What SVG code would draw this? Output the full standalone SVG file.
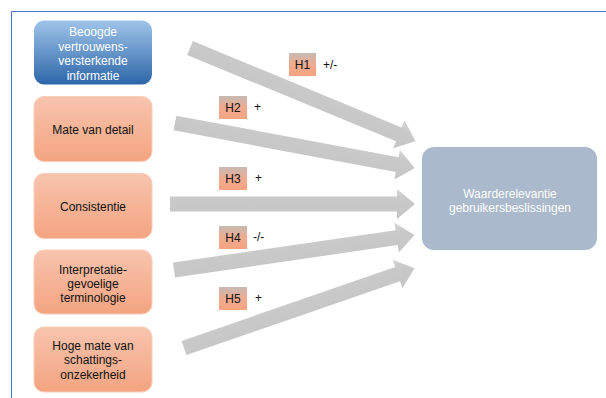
<svg xmlns="http://www.w3.org/2000/svg" width="606" height="398" viewBox="0 0 606 398">
<defs>
<linearGradient id="gBlue" x1="0" y1="0" x2="0" y2="1"><stop offset="0" stop-color="#9fc4ea"/><stop offset="1" stop-color="#2c66a8"/></linearGradient>
<linearGradient id="gOrange" x1="0" y1="0" x2="0" y2="1"><stop offset="0" stop-color="#f8c4ae"/><stop offset="1" stop-color="#f4a480"/></linearGradient>
<linearGradient id="gH" x1="0" y1="0" x2="0" y2="1"><stop offset="0" stop-color="#c6bab3"/><stop offset="0.5" stop-color="#f0ab8f"/><stop offset="1" stop-color="#f6a481"/></linearGradient>
<linearGradient id="gArrow" x1="0" y1="0" x2="0" y2="1"><stop offset="0" stop-color="#d6d6d6"/><stop offset="0.3" stop-color="#c9c9c9"/><stop offset="1" stop-color="#c6c6c6"/></linearGradient>
</defs>
<style>
.box{fill:url(#gOrange);stroke:#f9cdb9;stroke-width:1}
.t{font-family:"Liberation Sans",Arial,sans-serif;font-size:12px;text-anchor:middle;fill:#111}
.tw{font-family:"Liberation Sans",Arial,sans-serif;font-size:12px;text-anchor:middle;fill:#ffffff}
.hb{fill:url(#gH)}
.hl{font-family:"Liberation Sans",Arial,sans-serif;font-size:12px;fill:#111}
.arrow{fill:url(#gArrow)}
.frame{stroke:#4a74c2;stroke-width:1;fill:none}
</style>
<rect width="606" height="398" fill="#ffffff"/>
<path class="frame" d="M11.5,398 V11.5 H606"/>
<g id="connectors">
<polygon class="arrow" points="0,-7.5 226,-7.5 226,-15 244,0 226,15 226,7.5 0,7.5" transform="translate(190,48) rotate(22.46)"/>
<polygon class="arrow" points="0,-7.5 226,-7.5 226,-15 244,0 226,15 226,7.5 0,7.5" transform="translate(175,123) rotate(10.62)"/>
<polygon class="arrow" points="0,-7.5 227,-7.5 227,-15 245,0 227,15 227,7.5 0,7.5" transform="translate(170,204)"/>
<polygon class="arrow" points="0,-7.5 225,-7.5 225,-15 243,0 225,15 225,7.5 0,7.5" transform="translate(174,270) rotate(-8.26)"/>
<polygon class="arrow" points="0,-7.5 226,-7.5 226,-15 244,0 226,15 226,7.5 0,7.5" transform="translate(184,348) rotate(-19.1)"/>
</g>
<g id="n1">
<rect x="34" y="20.5" width="118" height="64" rx="10" fill="url(#gBlue)"/>
<text class="tw" x="93" y="36">Beoogde</text>
<text class="tw" x="93" y="50.5">vertrouwens-</text>
<text class="tw" x="93" y="65">versterkende</text>
<text class="tw" x="93" y="79.5">informatie</text>
</g>
<g id="n2">
<rect class="box" x="34" y="96.5" width="118" height="65" rx="10"/>
<text class="t" x="93" y="133.5">Mate van detail</text>
</g>
<g id="n3">
<rect class="box" x="34" y="173.5" width="118" height="65" rx="10"/>
<text class="t" x="93" y="210.5">Consistentie</text>
</g>
<g id="n4">
<rect class="box" x="34" y="250" width="118" height="64" rx="10"/>
<text class="t" x="93" y="273.5">Interpretatie-</text>
<text class="t" x="93" y="288">gevoelige</text>
<text class="t" x="93" y="302">terminologie</text>
</g>
<g id="n5">
<rect class="box" x="34" y="327" width="118" height="65" rx="10"/>
<text class="t" x="93" y="349.5">Hoge mate van</text>
<text class="t" x="93" y="364">schattings-</text>
<text class="t" x="93" y="378.5">onzekerheid</text>
</g>
<g id="target">
<rect x="422" y="147" width="175" height="103" rx="12" fill="#aab9cb"/>
<text class="tw" x="510" y="197.5">Waarderelevantie</text>
<text class="tw" x="510" y="211.5">gebruikersbeslissingen</text>
</g>
<g id="h1">
<rect class="hb" x="289" y="53" width="27" height="23"/>
<text class="hl" x="302.5" y="69" text-anchor="middle">H1</text>
<text class="hl" x="323" y="69">+/-</text>
</g>
<g id="h2">
<rect class="hb" x="219" y="96" width="28" height="23"/>
<text class="hl" x="233" y="112" text-anchor="middle">H2</text>
<text class="hl" x="254" y="111">+</text>
</g>
<g id="h3">
<rect class="hb" x="219" y="167" width="28" height="23"/>
<text class="hl" x="233" y="183" text-anchor="middle">H3</text>
<text class="hl" x="255" y="182">+</text>
</g>
<g id="h4">
<rect class="hb" x="219" y="226" width="28" height="23"/>
<text class="hl" x="233" y="242" text-anchor="middle">H4</text>
<text class="hl" x="253" y="241">-/-</text>
</g>
<g id="h5">
<rect class="hb" x="219" y="287" width="28" height="23"/>
<text class="hl" x="233" y="303" text-anchor="middle">H5</text>
<text class="hl" x="255" y="302">+</text>
</g>
</svg>
